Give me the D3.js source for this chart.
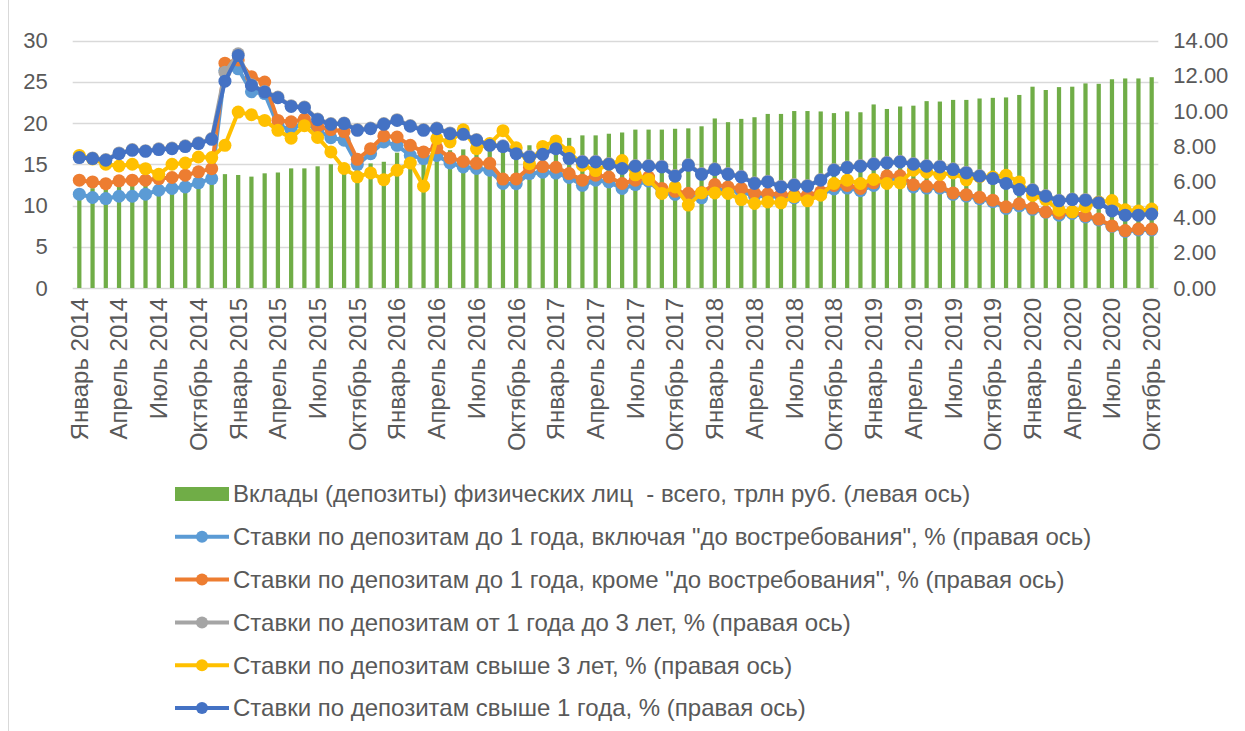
<!doctype html>
<html>
<head>
<meta charset="utf-8">
<style>
  body { margin: 0; background: #fff; }
  svg { display: block; font-family: "Liberation Sans", Arial, sans-serif; }
  .axis text { fill: #595959; }
  .legend text { fill: #595959; font-size: 24px; white-space: pre; }
</style>
<script src="https://d3js.org/d3.v7.min.js"></script>
</head>
<body>
<svg width="1245" height="731"></svg>
<script>
// months Jan 2014 .. Oct 2020
var monthNames = ["Январь", "Февраль", "Март", "Апрель", "Май", "Июнь", "Июль", "Август", "Сентябрь", "Октябрь", "Ноябрь", "Декабрь"];
var years = [2014, 2015, 2016, 2017, 2018, 2019, 2020];
var months = [];
years.forEach(function(y) {
  monthNames.forEach(function(m, i) { if (y < 2020 || i < 10) months.push(m + " " + y); });
});

// трлн руб. (левая ось)
var deposits = [12.0, 12.1, 12.2, 12.3, 12.4, 12.5, 12.6, 12.7, 12.8, 12.9, 13.1, 13.8,
  13.7, 13.5, 13.9, 14.0, 14.5, 14.5, 14.75, 15.0, 15.0, 15.1, 15.1, 15.3,
  16.4, 16.2, 16.3, 16.5, 16.7, 16.8, 16.9, 17.0, 17.0, 17.2, 17.3, 17.5,
  17.6, 18.2, 18.5, 18.5, 18.7, 18.85, 19.2, 19.2, 19.2, 19.3, 19.35, 19.6,
  20.55, 20.1, 20.5, 20.7, 21.1, 21.1, 21.45, 21.45, 21.4, 21.2, 21.4, 21.3,
  22.25, 21.7, 22.0, 22.1, 22.65, 22.6, 22.8, 22.8, 22.97, 23.05, 23.1, 23.4,
  24.4, 24.0, 24.35, 24.4, 24.8, 24.75, 25.3, 25.4, 25.4, 25.55];

// % (правая ось)
var rateUpTo1Incl = [5.31, 5.12, 5.06, 5.19, 5.19, 5.31, 5.53, 5.63, 5.72, 5.95, 6.19, 12.3,
  12.4, 11.1, 11.0, 9.2, 8.95, 9.39, 8.92, 8.5, 8.36, 6.98, 7.6, 8.26,
  8.07, 7.5, 7.32, 7.5, 7.07, 6.85, 6.76, 6.66, 5.91, 5.9, 6.47, 6.55,
  6.5, 6.25, 5.81, 6.1, 6.0, 5.63, 5.85, 6.05, 5.38, 5.3, 5.16, 5.1,
  5.6, 5.5, 5.45, 5.2, 5.2, 5.15, 5.1, 5.12, 5.3, 5.6, 5.65, 5.5,
  5.8, 6.15, 6.2, 5.72, 5.65, 5.65, 5.3, 5.2, 5.05, 4.88, 4.5, 4.65,
  4.45, 4.28, 4.12, 4.22, 4.02, 3.85, 3.48, 3.2, 3.28, 3.28];
var rateUpTo1Excl = [6.1, 6.0, 5.9, 6.06, 6.1, 6.1, 6.19, 6.25, 6.38, 6.57, 6.75, 12.72,
  12.9, 11.95, 11.65, 9.48, 9.4, 9.55, 9.15, 8.96, 8.85, 7.28, 7.88, 8.6,
  8.54, 8.07, 7.7, 7.93, 7.36, 7.16, 7.05, 7.05, 6.16, 6.17, 6.82, 6.87,
  6.83, 6.47, 6.1, 6.38, 6.28, 5.91, 6.1, 6.28, 5.63, 5.47, 5.36, 5.4,
  5.85, 5.72, 5.63, 5.37, 5.33, 5.3, 5.25, 5.25, 5.44, 5.8, 5.8, 5.63,
  5.95, 6.35, 6.35, 5.84, 5.75, 5.75, 5.38, 5.28, 5.14, 4.97, 4.59, 4.76,
  4.52, 4.3, 4.23, 4.31, 4.09, 3.9, 3.51, 3.25, 3.34, 3.34];
var rate1to3 = [7.42, 7.36, 7.27, 7.64, 7.83, 7.77, 7.87, 7.92, 8.04, 8.21, 8.45, 12.2,
  13.25, 11.5, 11.12, 10.8, 10.31, 10.24, 9.56, 9.3, 9.34, 8.96, 9.05, 9.3,
  9.52, 9.19, 8.96, 9.05, 8.77, 8.73, 8.4, 8.11, 8.04, 7.64, 7.45, 7.6,
  7.92, 7.36, 7.17, 7.17, 7.04, 6.8, 6.93, 6.93, 6.89, 6.36, 6.98, 6.47,
  6.74, 6.47, 6.32, 5.95, 6.04, 5.76, 5.85, 5.8, 6.14, 6.7, 6.85, 6.93,
  7.04, 7.11, 7.17, 7.04, 6.93, 6.89, 6.74, 6.55, 6.36, 6.23, 5.95, 5.61,
  5.57, 5.23, 4.97, 5.04, 5.01, 4.86, 4.4, 4.16, 4.16, 4.22];
var rateOver3 = [7.5, 7.3, 7.0, 6.9, 7.0, 6.75, 6.43, 7.0, 7.07, 7.41, 7.38, 8.07,
  9.95, 9.8, 9.48, 8.92, 8.47, 9.18, 8.52, 7.7, 6.76, 6.29, 6.51, 6.13,
  6.66, 7.07, 5.76, 8.45, 8.26, 8.95, 7.88, 8.17, 8.9, 7.93, 7.03, 8.01,
  8.32, 7.7, 6.95, 6.64, 7.0, 7.21, 6.4, 6.14, 5.35, 5.72, 4.69, 5.38,
  5.38, 5.35, 5.0, 4.78, 4.87, 4.82, 5.16, 4.93, 5.25, 5.91, 6.1, 5.91,
  6.14, 5.91, 5.95, 6.66, 6.55, 6.42, 6.51, 6.12, 6.3, 6.28, 6.38, 6.0,
  5.24, 5.0, 4.4, 4.31, 4.6, 4.85, 4.95, 4.42, 4.36, 4.47];
var rateOver1 = [7.38, 7.32, 7.23, 7.6, 7.79, 7.73, 7.83, 7.88, 8.0, 8.17, 8.41, 11.7,
  13.15, 11.46, 11.08, 10.76, 10.27, 10.2, 9.52, 9.26, 9.3, 8.92, 9.01, 9.26,
  9.48, 9.15, 8.92, 9.01, 8.73, 8.69, 8.36, 8.07, 8.0, 7.6, 7.41, 7.56,
  7.88, 7.32, 7.13, 7.13, 7.0, 6.76, 6.89, 6.89, 6.85, 6.32, 6.94, 6.43,
  6.7, 6.43, 6.28, 5.91, 6.0, 5.72, 5.81, 5.76, 6.1, 6.66, 6.81, 6.89,
  7.0, 7.07, 7.13, 7.0, 6.89, 6.85, 6.7, 6.51, 6.32, 6.19, 5.91, 5.57,
  5.53, 5.19, 4.93, 5.0, 4.97, 4.82, 4.36, 4.12, 4.12, 4.18];

var leftTicks = [0, 5, 10, 15, 20, 25, 30];
var rightTicks = [0, 2, 4, 6, 8, 10, 12, 14];

var barName = "Вклады (депозиты) физических лиц  - всего, трлн руб. (левая ось)";
var lineSeries = [
  { name: "Ставки по депозитам до 1 года, включая \"до востребования\", % (правая ось)", values: rateUpTo1Incl, color: "#5B9BD5" },
  { name: "Ставки по депозитам до 1 года, кроме \"до востребования\", % (правая ось)", values: rateUpTo1Excl, color: "#ED7D31" },
  { name: "Ставки по депозитам от 1 года до 3 лет, % (правая ось)", values: rate1to3, color: "#A5A5A5" },
  { name: "Ставки по депозитам свыше 3 лет, % (правая ось)", values: rateOver3, color: "#FFC000" },
  { name: "Ставки по депозитам свыше 1 года, % (правая ось)", values: rateOver1, color: "#4472C4" }
];

var svg = d3.select("svg");
var plotLeft = 72.7, plotRight = 1158.3, plotTop = 40.5, plotBottom = 288;

var x = d3.scaleBand().domain(months).range([plotLeft, plotRight]);
var yL = d3.scaleLinear().domain([0, 30]).range([plotBottom, plotTop]);
var yR = d3.scaleLinear().domain([0, 14]).range([plotBottom, plotTop]);

// chart frame edge
svg.append("line").attr("x1", 8.5).attr("x2", 8.5).attr("y1", 0).attr("y2", 731)
  .attr("stroke", "#D9D9D9");

// gridlines
svg.append("g").selectAll("line").data(leftTicks).enter().append("line")
  .attr("x1", plotLeft).attr("x2", plotRight)
  .attr("y1", function(d) { return Math.round(yL(d)) + 0.5; })
  .attr("y2", function(d) { return Math.round(yL(d)) + 0.5; })
  .attr("stroke", "#D9D9D9").attr("stroke-width", 1.5);

var gl = svg.append("g").attr("class", "axis")
  .attr("transform", "translate(" + (plotLeft - 22) + ",0)")
  .call(d3.axisLeft(yL).tickValues(leftTicks).tickSize(0));
gl.select(".domain").remove();
gl.selectAll("text").style("font-size", "22px").attr("fill", "#595959").attr("font-family", null);

var gr = svg.append("g").attr("class", "axis")
  .attr("transform", "translate(" + (plotRight + 12) + ",0)")
  .call(d3.axisRight(yR).tickValues(rightTicks).tickSize(0).tickFormat(d3.format(".2f")));
gr.select(".domain").remove();
gr.selectAll("text").style("font-size", "22px").attr("fill", "#595959");

var gx = svg.append("g").attr("class", "axis")
  .attr("transform", "translate(0," + plotBottom + ")")
  .call(d3.axisBottom(x).tickValues(months.filter(function(d, i) { return i % 3 === 0; })).tickSize(0));
gx.select(".domain").remove();
gx.selectAll("text")
  .style("font-size", "24px").attr("fill", "#595959")
  .attr("text-anchor", "end")
  .attr("transform", "rotate(-90)")
  .attr("x", -10).attr("y", 0).attr("dy", "0.35em");
svg.selectAll(".axis").attr("font-family", null);

// bars
var bw = x.bandwidth() * 0.32;
svg.append("g").selectAll("rect").data(deposits).enter().append("rect")
  .attr("x", function(d, i) { return x(months[i]) + (x.bandwidth() - bw) / 2; })
  .attr("y", function(d) { return yL(d); })
  .attr("width", bw)
  .attr("height", function(d) { return plotBottom - yL(d); })
  .attr("fill", "#70AD47");

// lines
var line = d3.line()
  .x(function(d, i) { return x(months[i]) + x.bandwidth() / 2; })
  .y(function(d) { return yR(d); });

lineSeries.forEach(function(s) {
  var g = svg.append("g");
  g.append("path").datum(s.values)
    .attr("d", line).attr("fill", "none")
    .attr("stroke", s.color).attr("stroke-width", 4).attr("stroke-linejoin", "round");
  g.selectAll("circle").data(s.values).enter().append("circle")
    .attr("cx", function(d, i) { return x(months[i]) + x.bandwidth() / 2; })
    .attr("cy", function(d) { return yR(d); })
    .attr("r", 6.5)
    .attr("fill", s.color);
});

// legend
var legend = svg.append("g").attr("class", "legend").attr("transform", "translate(175,0)");
var rowY = d3.scalePoint().domain(d3.range(6)).range([494, 708]);
legend.append("rect").attr("x", 0).attr("y", rowY(0) - 7).attr("width", 54).attr("height", 14)
  .attr("fill", "#70AD47");
legend.append("text").attr("x", 58).attr("y", rowY(0)).attr("dy", "0.35em").text(barName);
lineSeries.forEach(function(s, i) {
  var yy = rowY(i + 1);
  legend.append("line").attr("x1", 0).attr("x2", 54).attr("y1", yy).attr("y2", yy)
    .attr("stroke", s.color).attr("stroke-width", 4);
  legend.append("circle").attr("cx", 27).attr("cy", yy).attr("r", 6).attr("fill", s.color);
  legend.append("text").attr("x", 58).attr("y", yy).attr("dy", "0.35em").text(s.name);
});
</script>
</body>
</html>
